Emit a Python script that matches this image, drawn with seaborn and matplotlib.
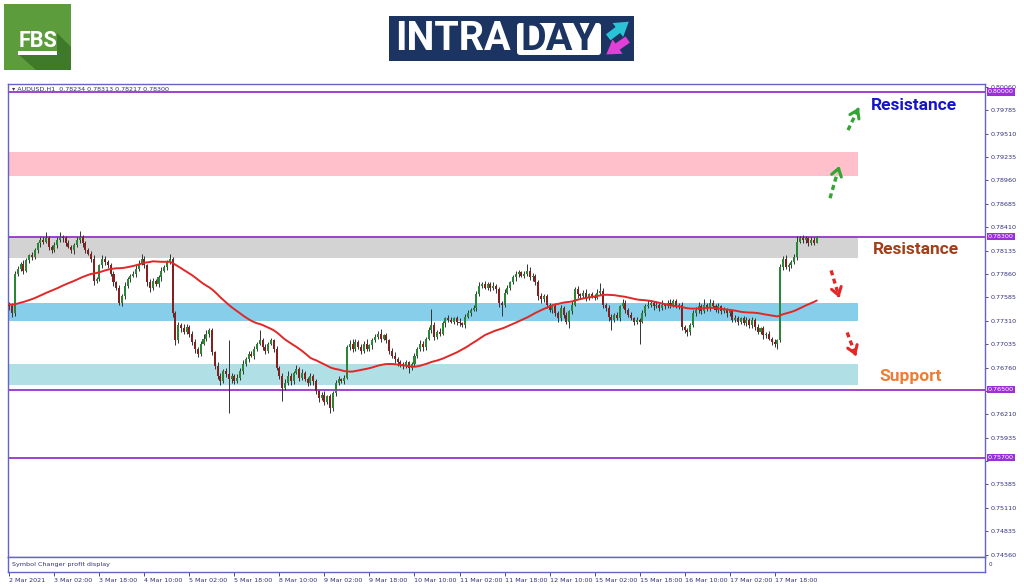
import numpy as np
import pandas as pd
import matplotlib.pyplot as plt
import matplotlib.patches as mpatches
import matplotlib.transforms as mtransforms
import seaborn as sns

# AUDUSD H1, 2 Mar 10:00 -> 18 Mar 09:00, closes in pips above 0.7600
closes = [
    148, 140, 186, 192, 198, 190, 202, 208, 206, 214, 222, 226,
    224, 228, 218, 214, 220, 226, 230, 228, 222, 218, 214, 220,
    226, 230, 222, 214, 210, 204, 178, 180, 196, 204, 200, 196,
    186, 176, 170, 152, 160, 172, 180, 184, 186, 192, 198, 204,
    196, 176, 170, 178, 174, 182, 190, 194, 200, 204, 140, 108,
    126, 122, 118, 124, 116, 106, 98, 92, 104, 110, 116, 120,
    94, 78, 66, 60, 72, 68, 62, 66, 60, 64, 72, 80,
    86, 92, 90, 98, 104, 108, 100, 96, 104, 108, 98, 76,
    66, 52, 58, 66, 60, 70, 74, 64, 70, 62, 58, 66,
    60, 48, 40, 44, 36, 42, 28, 46, 58, 62, 60, 64,
    100, 104, 98, 106, 100, 96, 104, 98, 102, 108, 112, 116,
    110, 114, 108, 96, 90, 86, 82, 80, 78, 82, 76, 80,
    90, 98, 104, 100, 110, 120, 126, 112, 118, 116, 128, 134,
    132, 130, 134, 130, 128, 126, 136, 140, 144, 146, 162, 172,
    174, 170, 174, 170, 172, 168, 152, 150, 164, 170, 176, 182,
    186, 188, 184, 186, 190, 182, 184, 176, 160, 156, 160, 150,
    144, 148, 140, 134, 146, 138, 130, 142, 150, 168, 162, 160,
    164, 158, 162, 160, 158, 164, 166, 150, 146, 136, 132, 138,
    134, 148, 152, 144, 138, 134, 130, 132, 130, 140, 148, 150,
    152, 148, 150, 146, 150, 148, 152, 150, 154, 148, 150, 124,
    120, 118, 126, 140, 144, 148, 142, 150, 146, 152, 148, 144,
    148, 142, 144, 140, 142, 132, 134, 130, 134, 128, 132, 126,
    132, 124, 118, 122, 114, 116, 110, 106, 104, 108, 194, 204,
    194, 196, 200, 206, 224, 228, 226, 228, 222, 226, 223, 230,
]
# upper / lower wick lengths in pips
wick_up = [
    3, 4, 4, 3, 2, 5, 3, 2, 4, 3, 2, 3, 4, 7, 3, 2, 4, 3, 5, 2, 3, 4, 2, 3,
    3, 6, 2, 3, 2, 3, 4, 3, 2, 4, 3, 2, 3, 4, 2, 3, 2, 4, 3, 2, 3, 4, 5, 6,
    3, 2, 4, 3, 2, 3, 4, 2, 3, 5, 2, 3, 4, 2, 5, 3, 2, 3, 4, 2, 3, 5, 4, 2,
    3, 2, 4, 3, 2, 4, 40, 3, 2, 4, 3, 5, 2, 3, 4, 3, 2, 12, 3, 4, 2, 3, 2, 3,
    2, 3, 4, 6, 3, 2, 5, 3, 4, 2, 3, 4, 2, 3, 2, 3, 4, 2, 3, 2, 3, 4, 2, 3,
    3, 4, 6, 3, 2, 4, 3, 5, 2, 3, 4, 3, 5, 2, 3, 2, 3, 4, 2, 3, 2, 3, 2, 3,
    3, 2, 4, 3, 2, 4, 19, 3, 2, 4, 3, 2, 4, 3, 2, 3, 4, 2, 3, 4, 2, 3, 4, 5,
    3, 4, 2, 3, 4, 2, 3, 2, 4, 3, 2, 3, 4, 3, 2, 3, 8, 4, 3, 2, 3, 4, 2, 3,
    2, 3, 4, 2, 3, 2, 3, 2, 4, 3, 4, 2, 3, 4, 2, 3, 2, 4, 9, 3, 2, 4, 3, 2,
    3, 2, 4, 3, 2, 3, 2, 3, 2, 4, 3, 5, 3, 2, 4, 3, 5, 2, 3, 4, 2, 3, 2, 3,
    2, 3, 2, 4, 3, 5, 3, 6, 2, 4, 3, 3, 4, 2, 3, 2, 3, 2, 4, 3, 2, 3, 4, 2,
    3, 2, 3, 2, 3, 2, 3, 2, 3, 2, 4, 3, 4, 3, 2, 3, 7, 3, 4, 3, 2, 3, 3, 1,
]
wick_dn = [
    4, 5, 3, 2, 3, 4, 2, 3, 4, 2, 3, 4, 3, 2, 4, 3, 2, 3, 2, 4, 3, 2, 3, 4,
    2, 3, 4, 3, 2, 4, 5, 3, 2, 3, 4, 3, 2, 4, 3, 2, 4, 3, 2, 3, 2, 4, 3, 2,
    3, 4, 5, 3, 2, 3, 4, 2, 3, 2, 4, 5, 3, 4, 2, 3, 4, 3, 5, 4, 3, 2, 3, 4,
    3, 4, 3, 5, 2, 3, 40, 4, 3, 2, 3, 4, 2, 3, 2, 4, 3, 2, 3, 4, 3, 2, 4, 3,
    4, 15, 3, 2, 4, 3, 2, 4, 3, 2, 4, 3, 5, 3, 4, 2, 4, 3, 6, 3, 4, 3, 2, 3,
    2, 3, 4, 3, 2, 4, 3, 2, 3, 4, 2, 3, 4, 2, 3, 4, 3, 5, 4, 3, 4, 3, 7, 3,
    2, 3, 2, 4, 3, 2, 3, 4, 2, 3, 2, 4, 3, 2, 3, 4, 3, 2, 3, 2, 3, 2, 3, 2,
    3, 2, 3, 4, 3, 4, 5, 13, 3, 2, 3, 2, 4, 3, 2, 3, 2, 3, 4, 3, 5, 4, 3, 4,
    3, 4, 3, 4, 3, 4, 3, 7, 3, 2, 4, 3, 2, 4, 3, 2, 3, 2, 3, 4, 3, 5, 12, 3,
    2, 3, 2, 4, 3, 2, 4, 3, 26, 2, 3, 2, 3, 4, 2, 3, 2, 3, 2, 4, 3, 2, 3, 4,
    3, 5, 4, 2, 3, 4, 3, 2, 4, 3, 2, 3, 4, 3, 2, 4, 3, 2, 3, 4, 3, 2, 3, 4,
    3, 4, 3, 2, 4, 3, 2, 3, 4, 6, 2, 3, 2, 4, 3, 2, 3, 2, 3, 4, 3, 2, 3, 1,
]
first_open = 150
ma_start = 150   # MA level before the first bar on screen (pips above 0.7600)
ma_period = 50

time_labels = ['2 Mar 2021', '3 Mar 02:00', '3 Mar 18:00', '4 Mar 10:00', '5 Mar 02:00',
               '5 Mar 18:00', '8 Mar 10:00', '9 Mar 02:00', '9 Mar 18:00', '10 Mar 10:00',
               '11 Mar 02:00', '11 Mar 18:00', '12 Mar 10:00', '15 Mar 02:00', '15 Mar 18:00',
               '16 Mar 10:00', '17 Mar 02:00', '17 Mar 18:00']
bars_per_label = 16

levels = [0.80000, 0.78300, 0.76500, 0.75700]
zone_low = [0.7901, 0.7805, 0.7731, 0.7656]
zone_high = [0.7930, 0.7830, 0.7752, 0.7680]
zone_colors = ['pink', 'lightgray', 'skyblue', 'powderblue']

labels_txt = ['Resistance', 'Resistance', 'Support']
labels_x = [321.6, 322.3, 320.2]
labels_y = [0.79847, 0.78150, 0.76653]
labels_col = ['#1616c8', '#a0401a', '#f07c30']

# arrows: (x_tail, y_tail, x_tip, y_tip, colour)
arrows = [(291.7, 0.78751, 295.3, 0.79163, '#33a532'),
          (298.1, 0.79552, 302.4, 0.79847, '#33a532'),
          (292.1, 0.77902, 295.3, 0.77549, '#e32626'),
          (297.8, 0.77172, 301.3, 0.76865, '#e32626')]

# ---- build OHLC
c = 0.76 + np.array(closes) / 10000
o = np.r_[0.76 + first_open / 10000, c[:-1]]
h = np.maximum(o, c) + np.array(wick_up) / 10000
l = np.minimum(o, c) - np.array(wick_dn) / 10000
df = pd.DataFrame({'i': np.arange(len(c)), 'open': o, 'high': h, 'low': l, 'close': c})
# simple moving average, warmed up with the level seen at the chart's left edge
warm = np.r_[np.full(ma_period - 1, 0.76 + ma_start / 10000), c]
df['ma'] = pd.Series(warm).rolling(ma_period).mean().values[ma_period - 1:]

sns.set_theme(style='white')
plt.rcParams['font.family'] = ['DejaVu Sans']

fig = plt.figure(figsize=(10.24, 5.87), dpi=100)
ax = fig.add_axes([8 / 1024, 1 - 557 / 587, 977 / 1024, 473 / 587])
ax2 = fig.add_axes([8 / 1024, 1 - 572 / 587, 977 / 1024, 15 / 587], sharex=ax)

frame = '#6464c8'
txtc = '#30307a'

# zones
for lo, hi, col in zip(zone_low, zone_high, zone_colors):
    ax.fill_between([-0.5, 301.7], lo, hi, color=col, lw=0, zorder=0.5)

for lv in levels:
    ax.axhline(lv, color='#9932cc', lw=1.3, zorder=1)

# candles
up = df['close'] >= df['open']
ax.vlines(df['i'], df['low'], df['high'], color='#333333', lw=0.7, zorder=2)
body = (df['close'] - df['open']).abs().clip(lower=0.00003)
ax.bar(df['i'], body, bottom=np.minimum(df['open'], df['close']), width=0.72,
       color=np.where(up, '#2a8636', '#862020'), lw=0, zorder=3)

sns.lineplot(data=df, x='i', y='ma', color='#e02828', lw=1.4, ax=ax, zorder=4)

ax.set_xlim(-0.5, 346.8)
ax.set_ylim(0.74532, 0.80094)
ax.set_xlabel('')
ax.set_ylabel('')
ax.yaxis.tick_right()
ticks = np.round(np.arange(0.74560, 0.8007, 0.00275), 5)
ax.set_yticks(ticks)
# labels hidden behind the level boxes
covered = [0.75660, 0.76485]
ax.set_yticklabels(['' if t in covered else f'{t:.5f}' for t in ticks])
ax.tick_params(axis='y', labelsize=4.6, colors=txtc, length=2.5, width=0.6, pad=1.5, right=True)
ax.tick_params(axis='x', bottom=False, labelbottom=False)
for s in ax.spines.values():
    s.set_color(frame)
    s.set_linewidth(1.0)

# price boxes on axis
tr = mtransforms.blended_transform_factory(ax.transAxes, ax.transData)
for lv in levels:
    ax.text(1.003, lv, f'{lv:.5f}', transform=tr, fontsize=4.6, color='white',
            va='center', ha='left', zorder=10, clip_on=False,
            bbox=dict(boxstyle='square,pad=0.18', fc='#9b30d9', ec='none'))

ax.text(0.004, 0.989, '\u25be AUDUSD.H1  0.78234 0.78313 0.78217 0.78300', transform=ax.transAxes,
        fontsize=4.6, color=txtc, va='center', ha='left')

for t, x, y, col in zip(labels_txt, labels_x, labels_y, labels_col):
    ax.text(x, y, t, color=col, fontsize=12.5, fontweight='bold', family='Roboto',
            ha='center', va='center', zorder=6)

for x0, y0, x1, y1, col in arrows:
    xm, ym = x0 + 0.72 * (x1 - x0), y0 + 0.72 * (y1 - y0)
    ax.plot([x0, xm], [y0, ym], color=col, lw=2.4, ls=(0, (1.5, 1.1)), solid_capstyle='butt', zorder=6)
    ax.annotate('', xy=(x1, y1), xytext=(xm, ym),
                arrowprops=dict(arrowstyle='->,head_length=0.45,head_width=0.3', color=col, lw=2.2),
                zorder=6)

# sub window
ax2.set_ylim(0, 1)
ax2.set_yticks([])
ax2.text(0.004, 0.5, 'Symbol Changer profit display', transform=ax2.transAxes,
         fontsize=4.6, color=txtc, va='center', ha='left')
ax2.text(1.004, 0.5, '0', transform=ax2.transAxes, fontsize=4, color=txtc, va='center', ha='left')
xt = np.arange(len(time_labels)) * bars_per_label
ax2.set_xticks(xt)
ax2.set_xticklabels(time_labels)
ax2.tick_params(axis='x', labelsize=4.6, colors=txtc, length=3, width=0.6, pad=1.2, bottom=True)
for lab in ax2.get_xticklabels():
    lab.set_ha('left')
for s in ax2.spines.values():
    s.set_color(frame)
    s.set_linewidth(1.0)

# ---- logos (pixel placement)
D = fig.dpi_scale_trans
def P(x, y):
    return (x / 100, (587 - y) / 100)

fig.add_artist(mpatches.Rectangle(P(4, 70), 0.67, 0.66, fc='#5c9c3d', ec='none', transform=D))
fig.add_artist(mpatches.Polygon([P(57, 33), P(71, 47), P(71, 70), P(36, 70), P(18, 54), P(57, 54)],
                                closed=True, fc='#3f7a2a', ec='none', transform=D))
fig.text(*P(37.5, 41), 'FBS', transform=D, family='Roboto', fontweight='bold', fontsize=15.5,
         color='white', ha='center', va='center')
fig.add_artist(mpatches.Rectangle(P(18, 54.5), 0.39, 0.035, fc='white', ec='none', transform=D))

fig.add_artist(mpatches.Rectangle(P(389, 61), 2.45, 0.45, fc='#1c3461', ec='none', transform=D))
fig.add_artist(mpatches.FancyBboxPatch(P(517, 55), 0.84, 0.32, boxstyle='round,pad=0.0,rounding_size=0.03',
                                       fc='white', ec='none', transform=D))
fig.text(*P(395, 39.5), 'INTRA', transform=D, family='Roboto', fontweight='bold', fontsize=28.5,
         color='white', ha='left', va='center')
fig.text(*P(559, 39.5), 'DAY', transform=D, family='Roboto', fontweight='bold', fontsize=28.5,
         color='#1c3461', ha='center', va='center')
fig.add_artist(mpatches.FancyArrowPatch(P(606, 39), P(631, 20), transform=D,
                                        arrowstyle='simple,head_width=1.4,head_length=1.1,tail_width=0.6',
                                        mutation_scale=9, fc='#2bc4d6', ec='none'))
fig.add_artist(mpatches.FancyArrowPatch(P(630, 38), P(604, 56), transform=D,
                                        arrowstyle='simple,head_width=1.4,head_length=1.1,tail_width=0.6',
                                        mutation_scale=9, fc='#e23fd6', ec='none'))

fig.savefig('out.png', dpi=100)
